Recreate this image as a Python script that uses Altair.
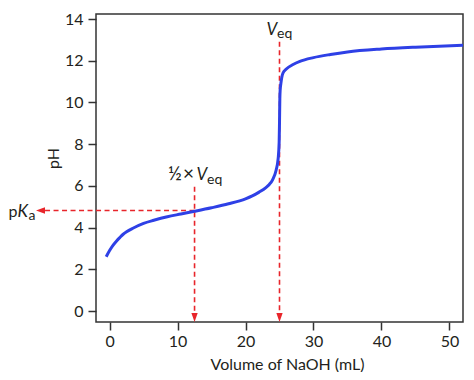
import altair as alt
import pandas as pd

# Titration curve (volume of NaOH in mL, pH)
vol = [-0.5, 0, 0.5, 1, 1.5, 2, 2.5, 3.5, 5, 6.5, 8.5, 10.5, 12.5, 15, 17.5, 20, 21, 22, 23,
       23.5, 24, 24.5, 24.8, 24.95, 25.0, 25.05, 25.1, 25.2, 25.5, 26, 27, 28, 30, 32.5, 35,
       40, 45, 52]
ph = [2.6, 2.9, 3.15, 3.35, 3.52, 3.68, 3.8, 3.98, 4.2, 4.35, 4.52, 4.65, 4.78, 4.95, 5.14,
      5.38, 5.52, 5.7, 5.92, 6.07, 6.3, 6.75, 7.3, 8.1, 9.0, 10.2, 10.6, 10.9, 11.4, 11.6,
      11.82, 11.97, 12.15, 12.3, 12.42, 12.56, 12.65, 12.74]

x_ticks = [0, 10, 20, 30, 40, 50]
y_ticks = [0, 2, 4, 6, 8, 10, 12, 14]

v_eq = 25.0
half_v_eq = 12.5
pka = 4.82

X_DOM = [-2, 52]
Y_DOM = [-0.527, 14.24]
RED = "#e8252b"
BLUE = "#2e40e6"
FONT = "Lato"
TXT = "#231f20"

curve_df = pd.DataFrame({"v": vol, "ph": ph})

xs = alt.Scale(domain=X_DOM, nice=False, zero=False)
ys = alt.Scale(domain=Y_DOM, nice=False, zero=False)

x_axis = alt.Axis(values=x_ticks, title="Volume of NaOH (mL)", grid=False, domain=False,
                  tickSize=8, tickWidth=1.5, tickColor="#333", labelFontSize=16,
                  labelPadding=3, labelColor=TXT, labelFont=FONT, titleFont=FONT,
                  titleFontSize=16, titleFontWeight="normal", titleColor=TXT,
                  titleX=191, titleY=42, titleBaseline="middle", titleAlign="center")
y_axis = alt.Axis(values=y_ticks, title="pH", grid=False, domain=False,
                  tickSize=8, tickWidth=1.5, tickColor="#333", labelFontSize=16,
                  labelPadding=5, labelColor=TXT, labelFont=FONT, titleFont=FONT,
                  titleFontSize=16, titleFontWeight="normal", titleColor=TXT,
                  titleX=-43, titleY=144, titleAngle=-90, titleBaseline="middle",
                  titleAlign="center")

curve = alt.Chart(curve_df).mark_line(color=BLUE, strokeWidth=3, interpolate="monotone").encode(
    x=alt.X("v:Q", scale=xs, axis=x_axis),
    y=alt.Y("ph:Q", scale=ys, axis=y_axis),
)

vlines_df = pd.DataFrame({"x": [half_v_eq, v_eq], "y": [5.96, 12.91], "y2": [-0.096, -0.096]})
vlines = alt.Chart(vlines_df).mark_rule(color=RED, strokeWidth=1.6, strokeDash=[5, 3.5]).encode(
    x=alt.X("x:Q", scale=xs), y=alt.Y("y:Q", scale=ys), y2="y2:Q")

hline_df = pd.DataFrame({"x": [half_v_eq], "x2": [-9.5], "y": [pka]})
hline = alt.Chart(hline_df).mark_rule(color=RED, strokeWidth=1.6, strokeDash=[5, 3.5], clip=False).encode(
    x=alt.X("x:Q", scale=xs), x2="x2:Q", y=alt.Y("y:Q", scale=ys))

down_df = pd.DataFrame({"x": [half_v_eq, v_eq], "y": [-0.311, -0.311]})
down_arrows = alt.Chart(down_df).mark_point(
    shape="M-0.7,-1L0.7,-1L0,1Z", size=81, filled=True, color=RED, opacity=1).encode(
    x=alt.X("x:Q", scale=xs), y=alt.Y("y:Q", scale=ys))

left_df = pd.DataFrame({"x": [-10.17], "y": [pka]})
left_arrow = alt.Chart(left_df).mark_point(
    shape="M1,-0.7L1,0.7L-1,0Z", size=81, filled=True, color=RED, opacity=1, clip=False).encode(
    x=alt.X("x:Q", scale=xs), y=alt.Y("y:Q", scale=ys))

# Annotation texts
half_df = pd.DataFrame({"t": ["½", "×"], "x": [8.59, 10.8], "y": [6.28, 6.28]})
half_txt = alt.Chart(half_df).mark_text(align="left", baseline="alphabetic", font=FONT,
                                        fontSize=19, color=TXT, clip=False).encode(
    x=alt.X("x:Q", scale=xs), y=alt.Y("y:Q", scale=ys), text="t:N")

p_df = pd.DataFrame({"t": ["p"], "x": [-14.88], "y": [4.507]})
p_txt = alt.Chart(p_df).mark_text(align="left", baseline="alphabetic", font=FONT,
                                  fontSize=16, color=TXT, clip=False).encode(
    x=alt.X("x:Q", scale=xs), y=alt.Y("y:Q", scale=ys), text="t:N")

ital_df = pd.DataFrame({"t": ["V", "V", "K"], "x": [23.09, 12.79, -13.55], "y": [13.233, 6.28, 4.507]})
ital_txt = alt.Chart(ital_df).mark_text(align="left", baseline="alphabetic", font=FONT,
                                        fontSize=17, fontStyle="italic", color=TXT, clip=False).encode(
    x=alt.X("x:Q", scale=xs), y=alt.Y("y:Q", scale=ys), text="t:N")

sub_df = pd.DataFrame({"t": ["eq", "eq", "a"], "x": [24.63, 14.33, -11.93], "y": [13.09, 6.113, 4.363]})
sub_txt = alt.Chart(sub_df).mark_text(align="left", baseline="alphabetic", font=FONT,
                                      fontSize=14, color=TXT, clip=False).encode(
    x=alt.X("x:Q", scale=xs), y=alt.Y("y:Q", scale=ys), text="t:N")

chart = alt.layer(vlines, hline, down_arrows, left_arrow, curve,
                  half_txt, p_txt, ital_txt, sub_txt).properties(
    width=367, height=308,
    autosize=alt.AutoSizeParams(type="none"),
    padding={"left": 88, "top": 6, "right": 3, "bottom": 50},
).configure_view(stroke="#333", strokeWidth=1.5)

chart.save("out.html", embed_options={"renderer": "svg", "actions": False})
